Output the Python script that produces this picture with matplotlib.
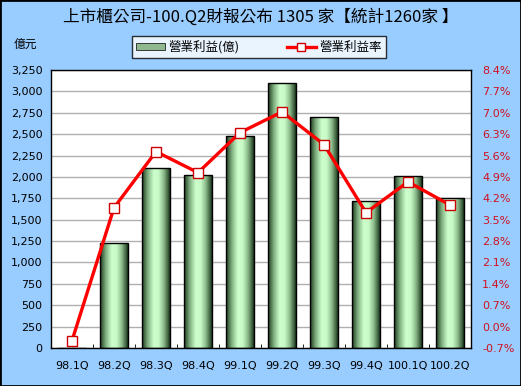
import numpy as np
import matplotlib
matplotlib.use("Agg")
import matplotlib.pyplot as plt
from matplotlib.colors import LinearSegmentedColormap
from matplotlib.patches import Patch
from matplotlib.lines import Line2D

plt.rcParams['font.family'] = ['DejaVu Sans', 'Noto Sans CJK TC']

categories = ["98.1Q", "98.2Q", "98.3Q", "98.4Q", "99.1Q", "99.2Q", "99.3Q", "99.4Q", "100.1Q", "100.2Q"]
profit = [0, 1225, 2100, 2020, 2478, 3098, 2700, 1718, 2010, 1752]
margin = [-0.46, 3.89, 5.73, 5.04, 6.35, 7.03, 5.96, 3.73, 4.74, 3.98]
left_ticks = [0, 250, 500, 750, 1000, 1250, 1500, 1750, 2000, 2250, 2500, 2750, 3000, 3250]
right_ticks = [-0.7, 0.0, 0.7, 1.4, 2.1, 2.8, 3.5, 4.2, 4.9, 5.6, 6.3, 7.0, 7.7, 8.4]

title = "上市櫃公司-100.Q2財報公布 1305 家【統計1260家 】"
bg = "#99CCFF"

fig = plt.figure(figsize=(5.21, 3.86), dpi=100, facecolor=bg)
ax = fig.add_axes([51/521, 38/386, 420/521, 278/386])
ax.set_facecolor("white")
x = np.arange(len(categories))

cmap = LinearSegmentedColormap.from_list(
    "g", [(0.0, "#1f3a1f"), (0.2, "#7fae7f"), (0.42, "#ccffcc"), (0.6, "#c8fac8"),
          (0.8, "#86b486"), (1.0, "#1f3a1f")])
grad = np.linspace(0, 1, 64).reshape(1, -1)
bw = 0.66
for xi, v in zip(x, profit):
    if v > 0:
        ax.imshow(grad, extent=(xi - bw/2, xi + bw/2, 0, v), aspect='auto', cmap=cmap,
                  zorder=2, interpolation='bilinear')
ax.bar(x, profit, width=bw, facecolor='none', edgecolor='black', linewidth=1.0, zorder=3)
ax.set_xlim(-0.5, len(categories) - 0.5)
ax.set_ylim(0, 3250)

ax.set_yticks(left_ticks)
ax.set_yticklabels([f"{t:,}" for t in left_ticks], fontsize=8)
ax.yaxis.grid(True, color="#b0b0b0", linewidth=1.0, zorder=0)
ax.set_axisbelow(True)
ax.tick_params(axis='y', length=0, pad=6)
ax.set_xticks(x)
ax.set_xticklabels(categories, fontsize=8)
ax.tick_params(axis='x', length=0, pad=9)
ax.set_xticks(np.arange(-0.5, len(categories), 1.0), minor=True)
ax.tick_params(axis='x', which='minor', direction='in', length=3, color='black')
for s in ax.spines.values():
    s.set_color("black")
    s.set_linewidth(1.0)

ax2 = ax.twinx()
ax2.set_ylim(-0.7, 8.4)
ax2.plot(x, margin, color="#ff0000", linewidth=2.4, marker='s', markersize=6.5,
         markerfacecolor='white', markeredgecolor='#cc0000', markeredgewidth=1.0, zorder=5)
ax2.set_yticks(right_ticks)
ax2.set_yticklabels([f"{t:.1f}%" for t in right_ticks], fontsize=8, color="#d01020")
ax2.tick_params(axis='y', length=0, pad=8)
for s in ax2.spines.values():
    s.set_visible(False)

fig.text(0.5, 1 - 17/386, title, ha='center', va='center', fontsize=12,
         family=['Noto Sans CJK TC', 'DejaVu Sans'])
fig.text(25/521, 1 - 45/386, "億元", ha='center', va='center', fontsize=8.5,
         family=['Noto Sans CJK TC', 'DejaVu Sans'])

handles = [Patch(facecolor="#8fb88f", edgecolor="black", linewidth=0.5),
           Line2D([0], [0], color="#ff0000", linewidth=2.4, marker='s', markersize=6,
                  markerfacecolor='white', markeredgecolor='#cc0000')]
leg = fig.legend(handles, ["營業利益(億)", "營業利益率"], ncol=2, loc='center',
                 bbox_to_anchor=(259/521, 1 - 47/386), frameon=True, fancybox=False,
                 edgecolor='black', prop={'family': ['Noto Sans CJK TC', 'DejaVu Sans'], 'size': 9},
                 handlelength=2.3, handletextpad=0.3, columnspacing=3.8, borderpad=0.35,
                 borderaxespad=0, handleheight=0.5)
leg.get_frame().set_linewidth(1.0)

border = plt.Rectangle((0, 0), 1, 1, transform=fig.transFigure, fill=False,
                       edgecolor='black', linewidth=2)
fig.patches.append(border)

fig.savefig("out.png", dpi=100, facecolor=bg)
